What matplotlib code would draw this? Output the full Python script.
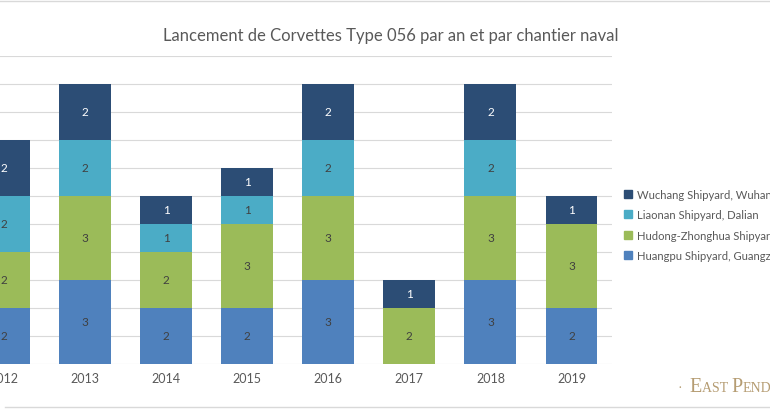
import numpy as np
import matplotlib.pyplot as plt
from matplotlib.patches import Rectangle
from matplotlib.lines import Line2D

plt.rcParams['font.family'] = ['Lato', 'DejaVu Sans']

years = ['2012', '2013', '2014', '2015', '2016', '2017', '2018', '2019']
huangpu = [2, 3, 2, 2, 3, 0, 3, 2]
hudong = [2, 3, 2, 3, 3, 2, 3, 3]
liaonan = [2, 2, 1, 1, 2, 0, 2, 0]
wuchang = [2, 2, 1, 1, 2, 1, 2, 1]

series = [
    ('Huangpu Shipyard, Guangzhou', huangpu, '#4f81bd', '#404040'),
    ('Hudong-Zhonghua Shipyard, Shanghai', hudong, '#9bbb59', '#404040'),
    ('Liaonan Shipyard, Dalian', liaonan, '#4bacc6', '#404040'),
    ('Wuchang Shipyard, Wuhan', wuchang, '#2c4d75', 'white'),
]

fig = plt.figure(figsize=(7.7, 4.1), dpi=100)
ax = fig.add_axes([0, 45 / 410, 612 / 770, (365 - 57) / 410])

x = np.arange(len(years))
bottom = np.zeros(len(years))
handles = []
for name, vals, col, tcol in series:
    vals = np.array(vals)
    bars = ax.bar(x, vals, 0.64, bottom=bottom, color=col, zorder=3)
    for b, v, y0 in zip(bars, vals, bottom):
        if v > 0:
            ax.text(b.get_x() + b.get_width() / 2, y0 + v / 2, str(v),
                    ha='center', va='center', fontsize=8.5, color=tcol, zorder=4)
    bottom += vals
    handles.append(Rectangle((0, 0), 1, 1, color=col, label=name))

ax.set_xlim(-0.05, 7.5)
ax.set_ylim(0, 11)
ax.set_yticks(range(0, 12))
ax.set_yticklabels([])
ax.grid(axis='y', color='#d9d9d9', linewidth=0.8, zorder=0)
ax.set_xticks(x)
ax.set_xticklabels(years, fontsize=9, color='#595959')
ax.tick_params(axis='both', length=0, pad=6)
for s in ax.spines.values():
    s.set_visible(False)

fig.text(0.507, 0.912, 'Lancement de Corvettes Type 056 par an et par chantier naval',
         ha='center', va='center', fontsize=12, color='#595959')

fig.legend(handles=handles[::-1], loc='upper left', bbox_to_anchor=(0.797, 0.562),
           frameon=False, fontsize=8.1, handlelength=0.72, handleheight=0.72,
           handletextpad=0.45, labelspacing=0.85, labelcolor='#595959')

# cadre du graphique
fig.add_artist(Line2D([0, 1], [1 - 2 / 410, 1 - 2 / 410], color='#d9d9d9', lw=1))
fig.add_artist(Line2D([5 / 770, 1], [2 / 410, 2 / 410], color='#d9d9d9', lw=1))

# logo en petites capitales
gold = '#b59c72'
parts = [('·  ', 10), ('E', 14.5), ('AST ', 10), ('P', 14.5), ('ENDULUM', 10)]
renderer = fig.canvas.get_renderer()
xpos = 678
for txt, sz in parts:
    t = fig.text(xpos / 770, 1 - 392 / 410, txt, fontsize=sz, color=gold,
                 family='Liberation Serif', ha='left', va='baseline')
    xpos = t.get_window_extent(renderer).x1

fig.savefig('out.png', dpi=100)
